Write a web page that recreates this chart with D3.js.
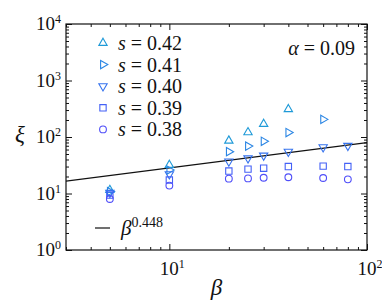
<!DOCTYPE html>
<html>
<head>
<meta charset="utf-8">
<script src="https://cdn.jsdelivr.net/npm/d3@7"></script>
<style>
body{margin:0;background:#fff;}
</style>
</head>
<body>
<div id="chart"></div>
<script>
// beta values and xi for each s series
var betas=[5,10,20,25,30,40,60,80];
var xi042=[11.5,32,86,121,170,310,null,null];
var xi041=[10.8,26,55,69,84,120,205,null];
var xi040=[10.3,22,37,42,47,55,66,70];
var xi039=[9.4,17.3,25,27,28,30,30.5,30];
var xi038=[8,13.8,18.3,18.5,19,19.4,18.8,17.8];
var seriesNames=["0.42","0.41","0.40","0.39","0.38"];
var fitExp=0.448, fitCoef=10.1;
var xMajor=[10,100], yMajor=[1,10,100,1000,10000];

var width=382,height=302;
var margin={top:24,right:15,bottom:52,left:66};
var W=width-margin.left-margin.right, H=height-margin.top-margin.bottom;
var serif="'Liberation Serif','Times New Roman',Times,'Noto Serif','DejaVu Serif',serif";

var series=[
  {s:seriesNames[0],v:xi042,type:d3.symbolTriangle,rot:0,size:30,color:"#1f9ad8"},
  {s:seriesNames[1],v:xi041,type:d3.symbolTriangle,rot:90,size:30,color:"#2b86e4"},
  {s:seriesNames[2],v:xi040,type:d3.symbolTriangle,rot:180,size:30,color:"#3673ee"},
  {s:seriesNames[3],v:xi039,type:d3.symbolSquare,rot:0,size:40,color:"#4461f6"},
  {s:seriesNames[4],v:xi038,type:d3.symbolCircle,rot:0,size:36,color:"#4f4ef9"}
];

var svg=d3.select("#chart").append("svg")
  .attr("width",width).attr("height",height)
  .attr("font-family",serif)
  .append("g")
  .attr("transform","translate("+margin.left+","+margin.top+")");

var x=d3.scaleLog().domain([3,100]).range([0,W]);
var y=d3.scaleLog().domain([1,10000]).range([H,0]);

var isMajor=function(d){ return Math.abs(Math.log10(d)-Math.round(Math.log10(d)))<1e-9; };
var xMinor=x.ticks().filter(function(d){ return !isMajor(d); });
var yMinor=y.ticks(40).filter(function(d){ return !isMajor(d); });

// ticks on all four sides, pointing inward
function ticks(axisFn,scale,vals,len,tr){
  svg.append("g").attr("transform",tr)
    .call(axisFn(scale).tickValues(vals).tickSizeInner(len).tickSizeOuter(0).tickFormat(""))
    .call(function(g){ g.select(".domain").remove(); g.selectAll("line").attr("stroke","#111"); });
}
ticks(d3.axisBottom,x,xMajor,-6,"translate(0,"+H+")");
ticks(d3.axisBottom,x,xMinor,-3,"translate(0,"+H+")");
ticks(d3.axisTop,x,xMajor,-6,"translate(0,0)");
ticks(d3.axisTop,x,xMinor,-3,"translate(0,0)");
ticks(d3.axisLeft,y,yMajor,-6,"translate(0,0)");
ticks(d3.axisLeft,y,yMinor,-3,"translate(0,0)");
ticks(d3.axisRight,y,yMajor,-6,"translate("+W+",0)");
ticks(d3.axisRight,y,yMinor,-3,"translate("+W+",0)");

svg.append("rect").attr("width",W).attr("height",H)
  .attr("fill","none").attr("stroke","#111").attr("stroke-width",1.2);

// tick labels 10^n
function pow10(sel,n){
  sel.append("tspan").text("10");
  sel.append("tspan").attr("dy",-7).attr("font-size",12).text(n);
}
yMajor.forEach(function(d){
  var t=svg.append("text").attr("x",-5).attr("y",y(d)+6)
    .attr("text-anchor","end").attr("font-size",19).attr("fill","#111");
  pow10(t,Math.round(Math.log10(d)));
});
xMajor.forEach(function(d){
  var t=svg.append("text").attr("x",x(d)+3).attr("y",H+25)
    .attr("text-anchor","middle").attr("font-size",19).attr("fill","#111");
  pow10(t,Math.round(Math.log10(d)));
});

// axis labels
svg.append("text").attr("x",W/2).attr("y",H+45).attr("text-anchor","middle")
  .attr("font-size",23).attr("font-style","italic").attr("fill","#111").text("β");
svg.append("text").attr("x",-46).attr("y",H/2+5).attr("text-anchor","middle")
  .attr("font-size",23).attr("font-style","italic").attr("fill","#111").text("ξ");

// fit line
svg.append("clipPath").attr("id","clip").append("rect").attr("width",W).attr("height",H);
var fitPts=x.domain().map(function(b){ return [b,fitCoef*Math.pow(b,fitExp)]; });
svg.append("path").attr("clip-path","url(#clip)")
  .attr("d",d3.line().x(function(d){ return x(d[0]); }).y(function(d){ return y(d[1]); })(fitPts))
  .attr("stroke","#111").attr("stroke-width",1.2).attr("fill","none");

// markers
series.forEach(function(sr){
  var pts=betas.map(function(b,i){ return {b:b,v:sr.v[i]}; }).filter(function(d){ return d.v!=null; });
  svg.append("g").selectAll("path").data(pts).enter().append("path")
    .attr("d",d3.symbol().type(sr.type).size(sr.size))
    .attr("transform",function(d){ return "translate("+x(d.b)+","+y(d.v)+") rotate("+sr.rot+")"; })
    .attr("fill","none").attr("stroke",sr.color).attr("stroke-width",1.1);
});

// legend
var leg=svg.append("g").attr("transform","translate(37,19)");
series.forEach(function(sr,i){
  var row=leg.append("g").attr("transform","translate(0,"+(i*21.6)+")");
  row.append("path").attr("d",d3.symbol().type(sr.type).size(sr.size))
    .attr("transform","rotate("+sr.rot+")")
    .attr("fill","none").attr("stroke",sr.color).attr("stroke-width",1.1);
  var t=row.append("text").attr("x",15).attr("y",7).attr("font-size",20).attr("fill","#111");
  t.append("tspan").attr("font-style","italic").text("s");
  t.append("tspan").text(" = "+sr.s);
});

var at=svg.append("text").attr("x",W-12).attr("y",31).attr("text-anchor","end")
  .attr("font-size",20).attr("fill","#111");
at.append("tspan").attr("font-style","italic").text("α");
at.append("tspan").text(" = 0.09");

svg.append("line").attr("x1",29).attr("x2",44).attr("y1",204).attr("y2",204)
  .attr("stroke","#111").attr("stroke-width",1.2);
var bt=svg.append("text").attr("x",55).attr("y",211).attr("font-size",21).attr("fill","#111");
bt.append("tspan").attr("font-style","italic").text("β");
bt.append("tspan").attr("dy",-8).attr("font-size",14).text(fitExp);
</script>
</body>
</html>
